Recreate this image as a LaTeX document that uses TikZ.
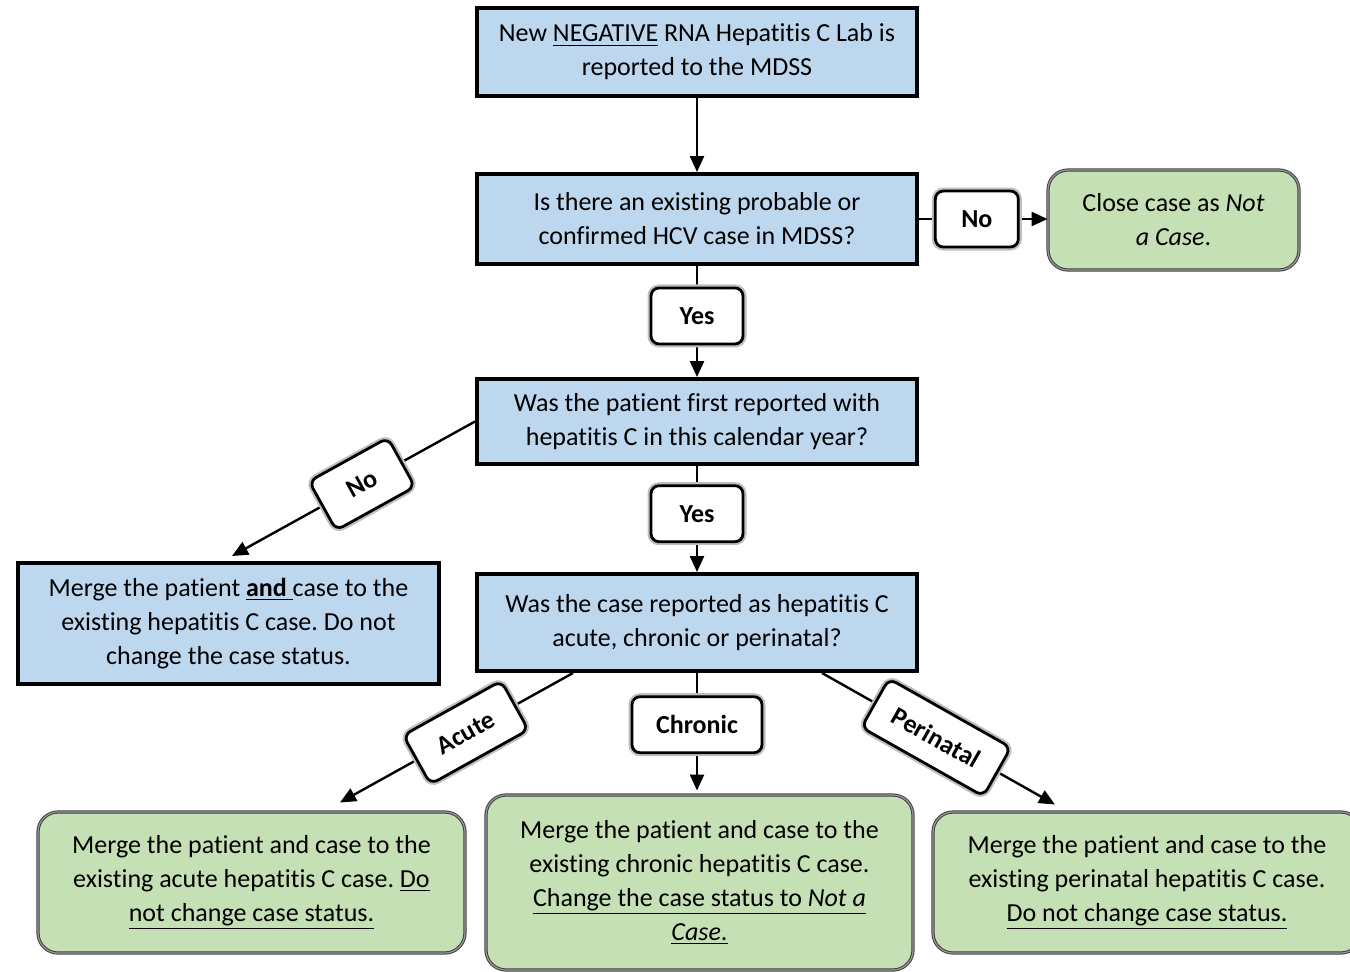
\documentclass[tikz,border=0pt]{standalone}
\usepackage{fontspec}
\setmainfont{Carlito}[Ligatures=NoCommon]
\usetikzlibrary{arrows.meta,calc}
\definecolor{blueF}{HTML}{BDD7EE}
\definecolor{greenF}{HTML}{C5E0B4}
\frenchspacing
\begin{document}
\begin{tikzpicture}[x=0.5pt,y=-0.5pt,
  txt/.style={font=\fontsize{13}{17}\selectfont, align=center, inner sep=0pt},
  bluebox/.style={txt, draw=black, line width=2pt, fill=blueF},
  greenbox/.style={txt, draw=black!75, fill=greenF, rounded corners=10pt, line width=0.5pt, double=black!40, double distance=0.6pt},
  lbl/.style={font=\bfseries\fontsize{13}{14}\selectfont, fill=white, draw=black, line width=1.4pt, rounded corners=4pt, inner sep=0pt, minimum height=28pt, preaction={draw=black!25, line width=3.5pt}},
  conn/.style={line width=1.2pt},
  arr/.style={conn, -{Triangle[length=8pt,width=7pt]}}]
\useasboundingbox (0,0) rectangle (1350,971);

\node[bluebox, minimum width=220pt, minimum height=44pt] (top) at (697,52) {New \underline{NEGATIVE} RNA Hepatitis C Lab is\\reported to the MDSS};
\node[bluebox, minimum width=220pt, minimum height=45pt] (q1) at (697,219) {Is there an existing probable or\\confirmed HCV case in MDSS?};
\node[bluebox, minimum width=220pt, minimum height=42.5pt] (q2) at (697,421.5) {Was the patient first reported with\\hepatitis C in this calendar year?};
\node[bluebox, minimum width=220pt, minimum height=48.5pt] (q3) at (697,622.5) {Was the case reported as hepatitis C\\acute, chronic or perinatal?};
\node[bluebox, minimum width=210.5pt, minimum height=60.5pt] (left) at (228.5,623.5) {Merge the patient \underline{\textbf{and} }case to the\\existing hepatitis C case. Do not\\change the case status.};
\node[greenbox, minimum width=125.5pt, minimum height=50pt] (close) at (1173.5,220) {Close case as \textit{Not}\\\textit{a Case}.};
\node[greenbox, minimum width=213.5pt, minimum height=70.5pt] (bl) at (251.5,882.5) {Merge the patient and case to the\\existing acute hepatitis C case. \underline{Do}\\\underline{not change case status.}};
\node[greenbox, minimum width=213.5pt, minimum height=87.5pt] (bm) at (699.5,882.5) {Merge the patient and case to the\\existing chronic hepatitis C case.\\\underline{Change the case status to \textit{Not a}}\\\underline{\textit{Case}.}};
\node[greenbox, minimum width=214pt, minimum height=70.5pt] (br) at (1147,882.5) {Merge the patient and case to the\\existing perinatal hepatitis C case.\\\underline{Do not change case status.}};

\coordinate (cw) at (q1.east -| close.west);
\coordinate (nl) at ($(left.north)+(3.5,-5)$);
\coordinate (a1) at ($(q3.south west)+(98,0)$);
\coordinate (a2) at ($(bl.north)+(88.5,-9)$);
\coordinate (c2) at ($(bm.north)+(-2.5,-4)$);
\coordinate (p1) at ($(q3.south east)+(-97,0)$);
\coordinate (p2) at ($(br.north)+(-92,-7)$);

\draw[arr] (top) -- (q1);
\draw[arr] (q1.east) -- node[lbl, pos=0.45, minimum width=41.5pt]{No} (cw);
\draw[arr] (q1) -- node[lbl, pos=0.45, minimum width=46pt]{Yes} (q2);
\draw[arr] (q2) -- node[lbl, pos=0.45, minimum width=46pt]{Yes} (q3);
\draw[arr] (q2.west) -- node[lbl, sloped, pos=0.465, minimum width=45pt]{No} (nl);
\draw[arr] (a1) -- node[lbl, sloped, pos=0.46, minimum width=56pt]{Acute} (a2);
\draw[arr] (q3.south) -- node[lbl, pos=0.44, minimum width=65pt]{Chronic} (c2);
\draw[arr] (p1) -- node[lbl, sloped, pos=0.49, minimum width=70pt]{Perinatal} (p2);
\end{tikzpicture}
\end{document}
